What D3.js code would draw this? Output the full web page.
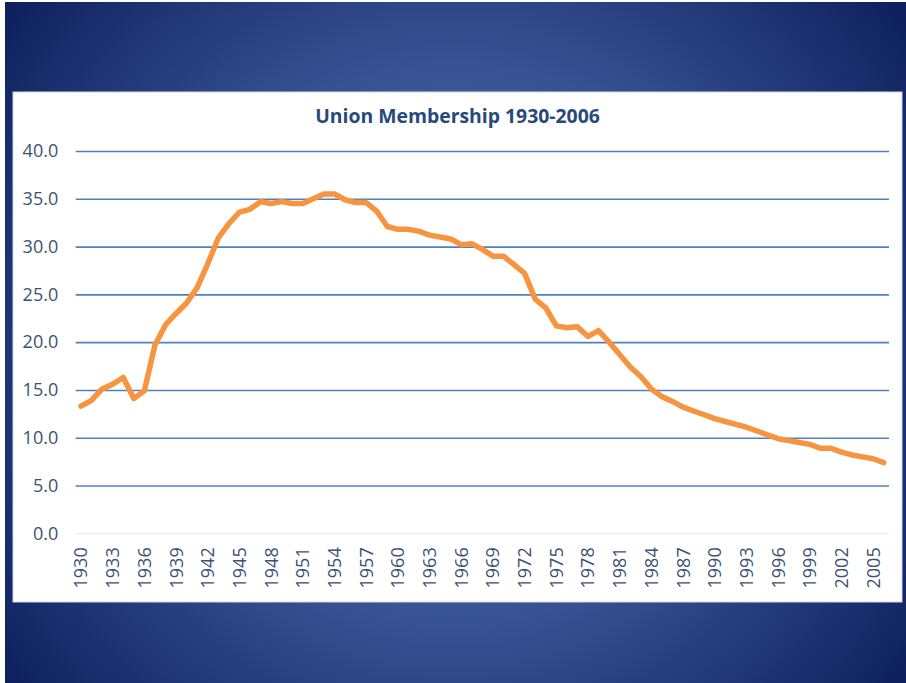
<!DOCTYPE html>
<html>
<head>
<meta charset="utf-8">
<script src="https://cdn.jsdelivr.net/npm/d3@7"></script>
<style>
  html, body { margin: 0; padding: 0; background: #ffffff; }
  svg { display: block; }
</style>
</head>
<body>
<svg id="chart" width="906" height="683"></svg>
<script>
// ---- data ----
const chartTitle = "Union Membership 1930-2006";
const years = d3.range(1930, 2007);
const membership = [
  13.3, 13.9, 15.1, 15.6, 16.3, 14.1, 14.9, 19.7, 21.8, 23.0,
  24.1, 25.7, 28.2, 30.9, 32.4, 33.6, 33.9, 34.7, 34.5, 34.7,
  34.5, 34.5, 35.0, 35.5, 35.5, 34.9, 34.6, 34.6, 33.7, 32.1,
  31.8, 31.8, 31.6, 31.2, 31.0, 30.8, 30.2, 30.3, 29.7, 29.0,
  29.0, 28.1, 27.2, 24.5, 23.6, 21.7, 21.5, 21.6, 20.6, 21.2,
  20.0, 18.7, 17.4, 16.4, 15.1, 14.3, 13.8, 13.2, 12.8, 12.4,
  12.0, 11.7, 11.4, 11.1, 10.7, 10.3, 9.9, 9.7, 9.5, 9.3,
  8.9, 8.9, 8.5, 8.2, 8.0, 7.8, 7.4
];
const yTicks = [0, 5, 10, 15, 20, 25, 30, 35, 40];
const xTickYears = years.filter((d, i) => i % 3 === 0);

// ---- layout ----
const W = 906, H = 683;
const plot = { left: 75.7, right: 889, top: 151, bottom: 533.3 };
const svg = d3.select("#chart");
const defs = svg.append("defs");

const grad = defs.append("radialGradient")
  .attr("id", "bg").attr("gradientUnits", "userSpaceOnUse")
  .attr("cx", 455).attr("cy", 345).attr("r", 580);
grad.append("stop").attr("offset", 0).attr("stop-color", "#4a67aa");
grad.append("stop").attr("offset", 0.45).attr("stop-color", "#3a5596");
grad.append("stop").attr("offset", 1).attr("stop-color", "#0b1d5a");

svg.append("rect").attr("x", 5).attr("y", 2).attr("width", W - 5).attr("height", H - 2)
  .attr("fill", "url(#bg)");

// chart card
svg.append("rect").attr("x", 13).attr("y", 92).attr("width", 889).attr("height", 510)
  .attr("fill", "#ffffff").attr("stroke", "#cfd6e2").attr("stroke-width", 1);

// scales
const x = d3.scaleBand().domain(years).range([plot.left, plot.right]).paddingInner(0).paddingOuter(0);
const cx = d => x(d) + x.bandwidth() / 2;
const y = d3.scaleLinear().domain([0, 40]).range([plot.bottom, plot.top]);

const labelFont = "'Open Sans', 'Liberation Sans', sans-serif";
const labelColor = "#3c5274";

// y axis with gridlines
const yAxis = svg.append("g")
  .attr("transform", `translate(${plot.left},0)`)
  .call(d3.axisLeft(y).tickValues(yTicks).tickFormat(d3.format(".1f"))
    .tickSize(-(plot.right - plot.left)).tickPadding(17.5));
yAxis.select(".domain").remove();
yAxis.selectAll(".tick line")
  .attr("stroke", d => d === 0 ? "#e8e8e8" : "#4f81bd")
  .attr("stroke-width", d => d === 0 ? 1 : 1.6);
yAxis.selectAll(".tick text")
  .attr("fill", labelColor).style("font-family", labelFont).style("font-size", "18px");

// x axis
const xAxis = svg.append("g")
  .attr("transform", `translate(0,${plot.bottom})`)
  .call(d3.axisBottom(x).tickValues(xTickYears).tickSize(0).tickPadding(0));
xAxis.select(".domain").remove();
xAxis.selectAll(".tick text")
  .attr("transform", "rotate(-90)")
  .attr("x", -14).attr("y", 0).attr("dy", "0.36em")
  .attr("text-anchor", "end")
  .attr("fill", labelColor).style("font-family", labelFont).style("font-size", "18px");

// line
const line = d3.line().x((d, i) => cx(years[i])).y(d => y(d));
svg.append("path").datum(membership)
  .attr("d", line)
  .attr("fill", "none")
  .attr("stroke", "#f7943f")
  .attr("stroke-width", 5.5)
  .attr("stroke-linejoin", "round")
  .attr("stroke-linecap", "round");

// title
const t = svg.append("text")
  .attr("x", 457.5).attr("y", 123)
  .attr("text-anchor", "middle")
  .attr("fill", "#27497c")
  .style("font-family", labelFont)
  .style("font-weight", "bold")
  .style("font-size", "18px")
  .text(chartTitle);
const tl = t.node().getComputedTextLength();
t.style("font-size", (18 * 285 / tl).toFixed(2) + "px");
</script>
</body>
</html>
